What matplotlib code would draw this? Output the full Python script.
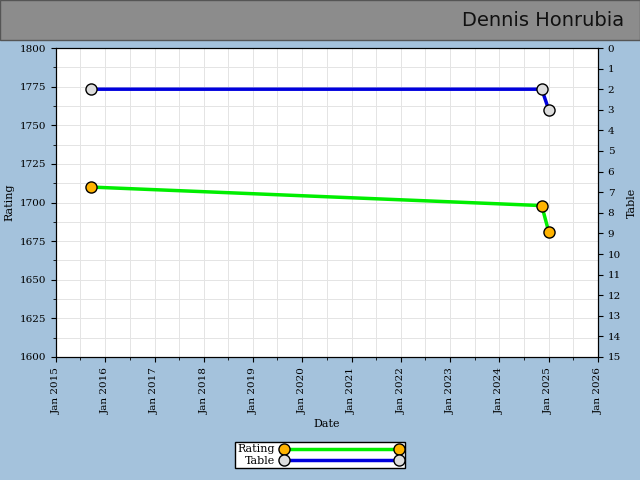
import matplotlib
matplotlib.use("Agg")
import matplotlib.pyplot as plt
import matplotlib.dates as mdates
import numpy as np

dates = np.array(["2015-09-15", "2024-11-10", "2025-01-01"], dtype="datetime64[D]")
rating = [1710, 1698, 1681]
table = [2, 2, 3]
title = "Dennis Honrubia"

bg = "#a4c2dc"
fig = plt.figure(figsize=(6.4, 4.8), dpi=100, facecolor=bg)
fig.patches.append(plt.Rectangle((0, 1-40/480), 1, 40/480, transform=fig.transFigure,
                                 facecolor="#8c8c8c", edgecolor="#555555", zorder=0))
fig.text(0.975, 1-20/480, title, ha="right", va="center", fontsize=14, color="#111111")

ax = fig.add_axes([56/640, 1-357/480, (598-56)/640, (357-48)/480])
ax.set_facecolor("white")
ax.plot(dates, rating, color="#00ee00", lw=2.5, marker="o", ms=8, mfc="#ffb300", mec="black", zorder=3)
ax.set_xlim(np.datetime64("2015-01-01"), np.datetime64("2026-01-01"))
ax.set_ylim(1600, 1800)
ax.set_yticks(range(1600, 1801, 25))
ax.yaxis.set_minor_locator(matplotlib.ticker.MultipleLocator(12.5))
ax.xaxis.set_major_locator(mdates.YearLocator())
ax.xaxis.set_minor_locator(mdates.MonthLocator(bymonth=[7]))
ax.xaxis.set_major_formatter(mdates.DateFormatter("Jan %Y"))
ax.grid(True, which="both", color="#e4e4e4", lw=0.7)
ax.set_axisbelow(True)
for lab in ax.get_xticklabels():
    lab.set_rotation(90)
ax.tick_params(labelsize=7.5)
for lab in ax.get_xticklabels() + ax.get_yticklabels():
    lab.set_family("DejaVu Serif")
ax.set_xlabel("Date", fontsize=8, family="DejaVu Serif")
ax.set_ylabel("Rating", fontsize=8, family="DejaVu Serif")

ax2 = ax.twinx()
ax2.plot(dates, table, color="#0000dd", lw=2.5, marker="o", ms=8,
         mfc="#dddddd", mec="black", zorder=3)
ax2.set_ylim(15, 0)
ax2.set_yticks(range(0, 16))
ax2.tick_params(labelsize=7.5)
for lab in ax2.get_yticklabels():
    lab.set_family("DejaVu Serif")
ax2.set_ylabel("Table", fontsize=8, family="DejaVu Serif")

from matplotlib.lines import Line2D
h1 = Line2D([], [], color="#00ee00", lw=2.5, marker="o", ms=8, mfc="#ffb300", mec="black")
h2 = Line2D([], [], color="#0000dd", lw=2.5, marker="o", ms=8, mfc="#dddddd", mec="black")
leg = fig.legend([h1, h2], ["Rating", "Table"], loc="center", bbox_to_anchor=(320/640, 1-455/480),
                 ncol=1, prop={"family": "DejaVu Serif", "size": 8}, frameon=True, numpoints=2,
                 fancybox=False, edgecolor="black", handlelength=11, borderpad=0.2, labelspacing=0.1,
                 handletextpad=0.5, markerfirst=False, framealpha=1)
fig.savefig("out.png", dpi=100, facecolor=bg)
